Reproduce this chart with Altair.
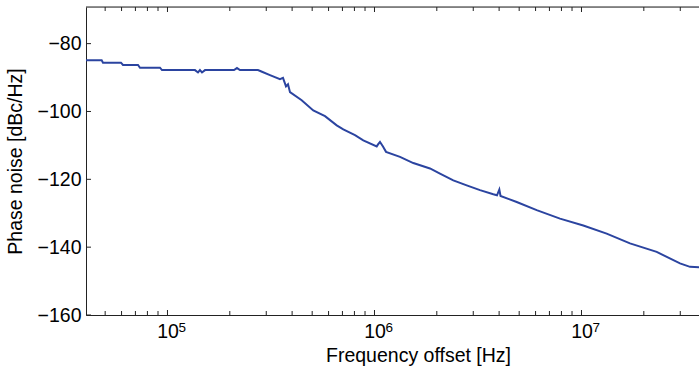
import altair as alt
import pandas as pd
import numpy as np

# Phase noise trace
freq = [40400, 48100, 48800, 59600, 60950, 72050, 73650, 91990, 94070, 135800,
        140400, 143500, 146800, 151800, 209600, 216600, 224000, 273600, 286100,
        312700, 349500, 361400, 373700, 382100, 390700, 444900, 506100, 576700,
        656900, 706800, 805000, 882800, 1.025e6, 1.040e6, 1.063e6, 1.099e6,
        1.137e6, 1.328e6, 1.540e6, 1.854e6, 2.072e6, 2.403e6, 2.789e6, 3.234e6,
        3.749e6, 3.907e6, 4.009e6, 4.063e6, 4.864e6, 6.075e6, 7.873e6, 1.020e7,
        1.323e7, 1.715e7, 2.308e7, 2.991e7, 3.344e7, 3.695e7]
noise = [-84.9, -84.9, -85.6, -85.6, -86.3, -86.3, -87.1, -87.1, -87.8, -87.8,
         -88.5, -87.8, -88.5, -87.8, -87.8, -87.2, -87.8, -87.8, -88.3,
         -89.3, -90.5, -90.1, -92.6, -92.0, -94.3, -96.7, -99.7, -101.4,
         -104.1, -105.3, -107.0, -108.5, -110.3, -109.7, -109.0, -110.3,
         -111.9, -113.4, -115.2, -116.8, -118.3, -120.3, -121.8, -123.2,
         -124.4, -124.7, -123.0, -124.9, -126.7, -129.1, -131.6, -133.6,
         -136.0, -138.9, -141.4, -144.8, -145.8, -145.9]

x_major = [1e5, 1e6, 1e7]
x_exponents = ["5", "6", "7"]
x_minor = [5e4, 6e4, 7e4, 8e4, 9e4,
           2e5, 3e5, 4e5, 5e5, 6e5, 7e5, 8e5, 9e5,
           2e6, 3e6, 4e6, 5e6, 6e6, 7e6, 8e6, 9e6,
           2e7, 3e7]
y_ticks = [-160, -140, -120, -100, -80]

XMIN, XMAX = 40400, 3.695e7
YMIN, YMAX = -160, -69.2
W, H = 613, 308
FONT = "Liberation Sans"
FS = 19.5
AXC = "#222222"

xs = alt.Scale(type="log", domain=[XMIN, XMAX], nice=False)
ys = alt.Scale(domain=[YMIN, YMAX], nice=False, zero=False)

df = pd.DataFrame({"f": freq, "p": noise})

# tick lengths converted to data units
def ylen(px):
    return px * (YMAX - YMIN) / H

def xfac(px):
    return 10 ** (px * np.log10(XMAX / XMIN) / W)

line = alt.Chart(df).mark_line(color="#2b44a0", strokeWidth=2, clip=True).encode(
    x=alt.X("f:Q", scale=xs,
            axis=alt.Axis(values=x_major, labelExpr="'10'", title="Frequency offset [Hz]",
                          grid=False, ticks=False, tickSize=0, domainColor=AXC,
                          labelFont=FONT, labelFontSize=FS, labelColor="black",
                          labelBaseline="alphabetic", labelPadding=22, labelAlign="center",
                          titleFont=FONT, titleFontSize=FS, titleFontWeight="normal",
                          titleColor="black", titleBaseline="alphabetic",
                          titleX=332, titleY=46.5, titleAlign="center")),
    y=alt.Y("p:Q", scale=ys,
            axis=alt.Axis(values=y_ticks, title="Phase noise [dBc/Hz]",
                          grid=False, ticks=False, tickSize=0, domainColor=AXC,
                          labelFont=FONT, labelFontSize=FS, labelColor="black",
                          labelPadding=5,
                          titleFont=FONT, titleFontSize=FS, titleFontWeight="normal",
                          titleColor="black", titleBaseline="alphabetic",
                          titleAngle=-90, titleX=-65, titleY=H / 2, titleAlign="center")),
)

tick_major_df = pd.DataFrame({"t": x_major})
tick_minor_df = pd.DataFrame({"t": x_minor})
ytick_df = pd.DataFrame({"t": y_ticks})
exp_df = pd.DataFrame({"t": x_major, "e": x_exponents})

def xticks(data, px):
    bottom = alt.Chart(data).mark_rule(color=AXC, strokeWidth=1).encode(
        x=alt.X("t:Q", scale=xs), y=alt.datum(YMIN), y2=alt.datum(YMIN + ylen(px)))
    top = alt.Chart(data).mark_rule(color=AXC, strokeWidth=1).encode(
        x=alt.X("t:Q", scale=xs), y=alt.datum(YMAX), y2=alt.datum(YMAX - ylen(px)))
    return bottom + top

yt = alt.Chart(ytick_df).mark_rule(color=AXC, strokeWidth=1).encode(
    y=alt.Y("t:Q", scale=ys), x=alt.datum(XMIN), x2=alt.datum(XMIN * xfac(5)))

top_border = alt.Chart(pd.DataFrame({"v": [YMAX]})).mark_rule(color=AXC, strokeWidth=1).encode(
    y=alt.Y("v:Q", scale=ys))

exps = alt.Chart(exp_df).mark_text(
    font=FONT, fontSize=13.5, color="black", align="left", baseline="alphabetic",
    dx=11, dy=17).encode(
    x=alt.X("t:Q", scale=xs), y=alt.datum(YMIN), text="e:N")

chart = alt.layer(line, xticks(tick_major_df, 5), xticks(tick_minor_df, 4), yt, top_border,
                  exps).properties(
    width=W, height=H,
    autosize=alt.AutoSizeParams(type="none"),
    padding={"left": 86, "top": 7, "right": 0, "bottom": 58},
).configure_view(stroke=None).configure(background="white")

chart.save("out.html", embed_options={"renderer": "svg", "actions": False})
